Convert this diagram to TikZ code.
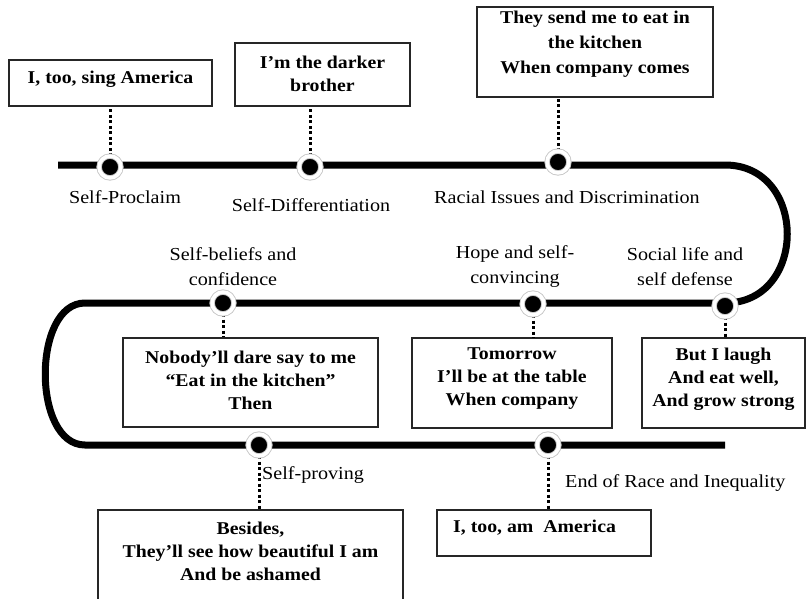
\documentclass[tikz,border=0pt]{standalone}
\usepackage{fontspec}
\setmainfont{Liberation Serif}[FakeStretch=1.1]
\usetikzlibrary{shadows}
\begin{document}
\begin{tikzpicture}[x=1pt,y=-1pt,
  track/.style={line width=7pt,line cap=butt},
  dotline/.style={line width=3pt,dash pattern=on 3pt off 2.5pt},
  box/.style={draw=black!85,line width=1.3pt,fill=white,rectangle,inner sep=0pt},
  boxtext/.style={font=\bfseries\fontsize{18}{23}\selectfont,align=center,inner sep=0pt},
  lbl/.style={font=\fontsize{18.3}{25}\selectfont,align=center,inner sep=0pt},
  stopdot/.style={circle,fill=black,draw=black!22,double=white,double distance=3.6pt,line width=0.9pt,
    minimum size=21.8pt,inner sep=0pt,
    drop shadow={shadow xshift=1.2pt,shadow yshift=-1.8pt,fill=black!45,opacity=0.7}}]
\useasboundingbox (0,0) rectangle (806,598);
\clip (0,0) rectangle (806,598);
\fill[white] (0,0) rectangle (806,598);

% track
\coordinate (t0) at (58,165);
\coordinate (t1) at (725,165);
\coordinate (t2) at (725,303);
\coordinate (t3) at (85,303);
\coordinate (t4) at (85,445);
\coordinate (t5) at (725,445);
\draw[track] (t0) -- (t1) .. controls (808,165) and (808,303) .. (t2) -- (t3)
  .. controls (32,303) and (32,445) .. (t4) -- (t5);

% boxes
\node[box,minimum width=203pt,minimum height=46pt] (b1) at (110.5,83) {};
\node[box,minimum width=175pt,minimum height=63pt] (b2) at (322.5,74.5) {};
\node[box,minimum width=236pt,minimum height=90pt] (b3) at (595,52) {};
\node[box,minimum width=255pt,minimum height=89pt] (b4) at (250.5,382.5) {};
\node[box,minimum width=200pt,minimum height=90pt] (b5) at (512,383) {};
\node[box,minimum width=163pt,minimum height=90pt] (b6) at (723.5,383) {};
\node[box,minimum width=305pt,minimum height=100pt] (b7) at (250.5,560) {};
\node[box,minimum width=214pt,minimum height=46pt] (b8) at (544,533) {};

% box texts
\node[boxtext] (x1) at (110.5,79) {I, too, sing America};
\node[boxtext] (x2) at (322.5,74) {I’m the darker\\brother};
\node[boxtext,font=\bfseries\fontsize{18}{25}\selectfont] (x3) at (595,44) {They send me to eat in\\the kitchen\\When company comes};
\node[boxtext] (x4) at (250.5,380) {Nobody’ll dare say to me\\“Eat in the kitchen”\\Then};
\node[boxtext] (x5) at (512,379) {Tomorrow\\I’ll be at the table\\When company};
\node[boxtext] (x6) at (723.5,379) {But I laugh\\And eat well,\\And grow strong};
\node[boxtext] (x7) at (250.5,551.5) {Besides,\\They’ll see how beautiful I am\\And be ashamed};
\node[boxtext,anchor=west] (x8) at (453,528) {I, too, am~ America};

% stops
\coordinate (p1) at (110,167);
\coordinate (p2) at (310,167);
\coordinate (p3) at (558,162);
\coordinate (p4) at (223,303);
\coordinate (p5) at (533,304);
\coordinate (p6) at (725,306);
\coordinate (p7) at (259,445);
\coordinate (p8) at (548,445);

% dotted connectors
\draw[dotline] (p1) -- (p1 |- b1.south);
\draw[dotline] (p2) -- (p2 |- b2.south);
\draw[dotline] (p3) -- (p3 |- b3.south);
\draw[dotline] (p4) -- (p4 |- b4.north);
\draw[dotline] (p5) -- (p5 |- b5.north);
\draw[dotline] (p6) -- (p6 |- b6.north);
\draw[dotline] (p7) -- (p7 |- b7.north);
\draw[dotline] (p8) -- (p8 |- b8.north);

\foreach \i in {1,...,8} {\node[stopdot] (d\i) at (p\i) {};}

% labels
\node[lbl] (l1) at (125,197) {Self-Proclaim};
\node[lbl] (l2) at (311,205) {Self-Differentiation};
\node[lbl] (l3) at (567,197) {Racial Issues and Discrimination};
\node[lbl] (l4) at (233,267) {Self-beliefs and\\confidence};
\node[lbl] (l5) at (515,267) {Hope and self-\\convincing};
\node[lbl] (l6) at (685,267) {Social life and\\self defense};
\node[lbl,anchor=west] (l7) at (262,475) {Self-proving};
\node[lbl,anchor=west] (l8) at (565,483) {End of Race and Inequality};
\end{tikzpicture}
\end{document}
